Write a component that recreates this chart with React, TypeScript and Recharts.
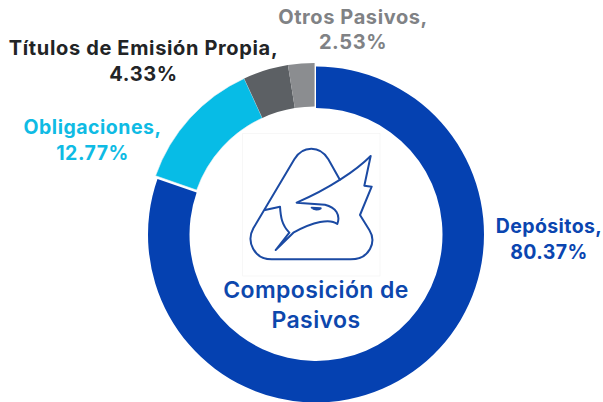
import { Cell, Pie, PieChart } from "recharts";

const names = ["Depósitos", "Obligaciones", "Títulos de Emisión Propia", "Otros Pasivos"];
const shares = [80.37, 12.77, 4.33, 2.53];
const sliceColors = ["#0541b1", "#07bce6", "#5c6064", "#8b8d90"];
const textColors = ["#0a45b0", "#0fbbe4", "#222426", "#808285"];
// where each two-line label is centred, first baseline
const labelX = [549, 92.5, 143.5, 353];
const labelY = [233, 134, 55, 23.5];
const labelSize = [19.5, 19.5, 20, 20];
const labelSpacing = [0.4, 0.5, 0.65, 0.6];

const pieData = names.map((name, i) => ({ name, value: shares[i] }));
const FONT = "Inter, sans-serif";

const renderLabel = ({ index }: { index: number }) => (
  <text
    key={index}
    textAnchor="middle"
    fontFamily={FONT}
    fontWeight={700}
    fontSize={labelSize[index]}
    letterSpacing={labelSpacing[index]}
    fill={textColors[index]}
  >
    <tspan x={labelX[index]} y={labelY[index]}>{names[index]},</tspan>
    <tspan x={labelX[index]} y={labelY[index] + 25.7}>{shares[index].toFixed(2)}%</tspan>
  </text>
);

const Logo = () => (
  <svg
    width={170}
    height={160}
    viewBox="0 0 510 480"
    style={{ position: "absolute", left: 230, top: 120 }}
  >
    <rect x={38} y={40} width={412} height={428} fill="#fff" stroke="#f3f3f3" strokeWidth={2} />
    <g fill="none" stroke="#1b4aa3" strokeWidth={6} strokeLinejoin="round" strokeLinecap="round">
      <path d="M330 180 L295 118 C270 76 218 76 193 118 L70 325 C48 365 72 418 125 418 L362 418 C420 418 440 365 418 330 L390 285 L425 200 L403 197 L422 108 C380 150 300 205 200 248 L285 254 C318 262 332 285 322 312 C300 295 250 305 190 338 L137 390 L178 338 C155 315 152 290 150 260 L105 270" />
      <path d="M245 263 L272 265 C265 270 252 270 245 263 Z" fill="#1b4aa3" />
    </g>
  </svg>
);

export default function App() {
  return (
    <div style={{ position: "absolute", left: 0, top: 0, width: 603, height: 402, overflow: "hidden", background: "#fff" }}>
      <PieChart width={603} height={402} margin={{ top: 0, right: 0, bottom: 0, left: 0 }}>
        {/* the big slice stays put, the three small ones sit a bit further out */}
        <Pie
          data={pieData}
          dataKey="value"
          nameKey="name"
          cx={316}
          cy={234.5}
          innerRadius={126.5}
          outerRadius={168}
          startAngle={90}
          endAngle={-270}
          stroke="none"
          label={renderLabel}
          labelLine={false}
          isAnimationActive={false}
        >
          {pieData.map((d, i) => (
            <Cell key={d.name} fill={i === 0 ? sliceColors[i] : "transparent"} />
          ))}
        </Pie>
        <Pie
          data={pieData}
          dataKey="value"
          nameKey="name"
          cx={314.6}
          cy={231.5}
          innerRadius={125}
          outerRadius={168.5}
          startAngle={90}
          endAngle={-270}
          stroke="none"
          label={false}
          labelLine={false}
          isAnimationActive={false}
        >
          {pieData.map((d, i) => (
            <Cell
              key={d.name}
              fill={i === 0 ? "transparent" : sliceColors[i]}
              stroke={i === 1 ? "#e8eef2" : "none"}
              strokeWidth={i === 1 ? 0.6 : 0}
            />
          ))}
        </Pie>
      </PieChart>
      <Logo />
      <div
        style={{
          position: "absolute",
          left: 190,
          top: 275,
          width: 252,
          textAlign: "center",
          fontFamily: FONT,
          fontWeight: 600,
          fontSize: 23,
          letterSpacing: 0.4,
          lineHeight: "30px",
          color: "#0d47ad",
        }}
      >
        Composición de
        <br />
        Pasivos
      </div>
    </div>
  );
}
